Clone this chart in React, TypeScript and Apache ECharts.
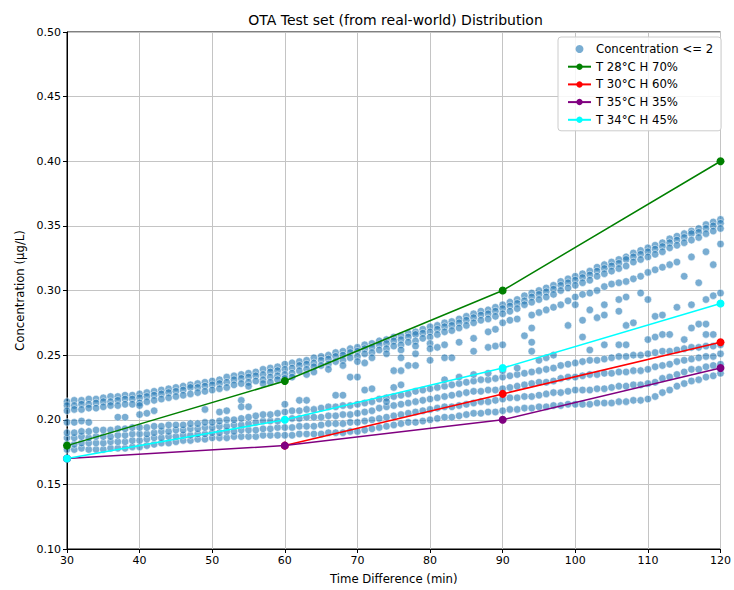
import React, { useEffect, useRef } from "react";
import * as echarts from "echarts";

const MINUTES = [
  30, 31, 32, 33, 34, 35, 36, 37, 38, 39,
  40, 41, 42, 43, 44, 45, 46, 47, 48, 49,
  50, 51, 52, 53, 54, 55, 56, 57, 58, 59,
  60, 61, 62, 63, 64, 65, 66, 67, 68, 69,
  70, 71, 72, 73, 74, 75, 76, 77, 78, 79,
  80, 81, 82, 83, 84, 85, 86, 87, 88, 89,
  90, 91, 92, 93, 94, 95, 96, 97, 98, 99,
  100, 101, 102, 103, 104, 105, 106, 107, 108, 109,
  110, 111, 112, 113, 114, 115, 116, 117, 118, 119,
  120,
];

const UPPER_TOP = [
  0.214, 0.215, 0.215, 0.216, 0.216, 0.217, 0.218, 0.218, 0.219, 0.219,
  0.220, 0.221, 0.222, 0.223, 0.224, 0.225, 0.226, 0.227, 0.228, 0.229,
  0.230, 0.231, 0.233, 0.234, 0.235, 0.236, 0.237, 0.239, 0.240, 0.241,
  0.243, 0.244, 0.245, 0.246, 0.248, 0.249, 0.250, 0.252, 0.253, 0.255,
  0.256, 0.258, 0.259, 0.261, 0.262, 0.264, 0.265, 0.267, 0.268, 0.270,
  0.272, 0.273, 0.275, 0.276, 0.278, 0.280, 0.282, 0.284, 0.285, 0.287,
  0.289, 0.291, 0.293, 0.296, 0.298, 0.300, 0.302, 0.304, 0.307, 0.309,
  0.311, 0.313, 0.315, 0.318, 0.320, 0.322, 0.324, 0.326, 0.329, 0.331,
  0.333, 0.335, 0.337, 0.340, 0.342, 0.344, 0.346, 0.348, 0.351, 0.353,
  0.355,
];

const UPPER_MID = [
  0.211, 0.211, 0.212, 0.212, 0.213, 0.214, 0.214, 0.215, 0.216, 0.216,
  0.217, 0.218, 0.219, 0.220, 0.221, 0.222, 0.223, 0.225, 0.225, 0.226,
  0.227, 0.228, 0.229, 0.231, 0.232, 0.233, 0.234, 0.235, 0.237, 0.238,
  0.239, 0.240, 0.242, 0.243, 0.244, 0.246, 0.247, 0.249, 0.250, 0.252,
  0.253, 0.255, 0.256, 0.258, 0.259, 0.261, 0.262, 0.264, 0.266, 0.267,
  0.268, 0.270, 0.272, 0.273, 0.275, 0.277, 0.279, 0.281, 0.282, 0.284,
  0.286, 0.288, 0.290, 0.292, 0.295, 0.297, 0.299, 0.301, 0.304, 0.306,
  0.308, 0.310, 0.312, 0.315, 0.317, 0.319, 0.321, 0.324, 0.326, 0.328,
  0.330, 0.332, 0.334, 0.337, 0.339, 0.341, 0.344, 0.345, 0.348, 0.350,
  0.352,
];

const UPPER_LOW = [
  0.207, 0.208, 0.208, 0.209, 0.209, 0.210, 0.211, 0.211, 0.212, 0.212,
  0.213, 0.214, 0.215, 0.216, 0.217, 0.218, 0.219, 0.220, 0.221, 0.222,
  0.223, 0.224, 0.225, 0.227, 0.228, 0.229, 0.230, 0.231, 0.233, 0.234,
  0.235, 0.236, 0.238, 0.239, 0.241, 0.242, 0.243, 0.245, 0.246, 0.248,
  0.249, 0.251, 0.252, 0.254, 0.255, 0.257, 0.258, 0.260, 0.261, 0.263,
  0.264, 0.266, 0.268, 0.269, 0.271, 0.273, 0.275, 0.277, 0.278, 0.280,
  0.282, 0.284, 0.286, 0.289, 0.291, 0.293, 0.295, 0.297, 0.300, 0.302,
  0.304, 0.306, 0.308, 0.311, 0.313, 0.315, 0.317, 0.319, 0.322, 0.324,
  0.326, 0.328, 0.330, 0.333, 0.335, 0.337, 0.339, 0.341, 0.344, 0.346,
  0.348,
];

const LOWER_1 = [
  0.177, 0.177, 0.178, 0.177, 0.177, 0.177, 0.178, 0.178, 0.178, 0.179,
  0.179, 0.180, 0.181, 0.182, 0.182, 0.183, 0.184, 0.184, 0.185, 0.185,
  0.186, 0.186, 0.186, 0.187, 0.187, 0.187, 0.187, 0.188, 0.188, 0.188,
  0.188, 0.188, 0.189, 0.189, 0.189, 0.189, 0.190, 0.190, 0.190, 0.191,
  0.191, 0.192, 0.193, 0.194, 0.195, 0.196, 0.197, 0.198, 0.198, 0.199,
  0.200, 0.201, 0.202, 0.202, 0.203, 0.204, 0.205, 0.205, 0.206, 0.206,
  0.207, 0.208, 0.208, 0.209, 0.209, 0.210, 0.210, 0.211, 0.211, 0.212,
  0.212, 0.212, 0.212, 0.213, 0.213, 0.213, 0.214, 0.214, 0.215, 0.215,
  0.216, 0.218, 0.221, 0.223, 0.226, 0.228, 0.230, 0.231, 0.233, 0.234,
  0.236,
];

const LOWER_2 = [
  0.181, 0.181, 0.182, 0.182, 0.182, 0.182, 0.183, 0.183, 0.183, 0.184,
  0.184, 0.185, 0.186, 0.186, 0.187, 0.187, 0.188, 0.188, 0.189, 0.189,
  0.190, 0.190, 0.191, 0.191, 0.192, 0.192, 0.192, 0.193, 0.193, 0.194,
  0.194, 0.194, 0.195, 0.195, 0.195, 0.196, 0.197, 0.197, 0.197, 0.198,
  0.198, 0.199, 0.200, 0.201, 0.202, 0.203, 0.204, 0.205, 0.206, 0.207,
  0.208, 0.209, 0.210, 0.210, 0.211, 0.212, 0.213, 0.214, 0.214, 0.215,
  0.216, 0.217, 0.217, 0.218, 0.218, 0.219, 0.220, 0.221, 0.221, 0.222,
  0.223, 0.223, 0.223, 0.224, 0.224, 0.225, 0.226, 0.226, 0.227, 0.227,
  0.228, 0.229, 0.232, 0.233, 0.235, 0.237, 0.239, 0.239, 0.241, 0.242,
  0.243,
];

const LOWER_3 = [
  0.186, 0.186, 0.187, 0.186, 0.187, 0.187, 0.187, 0.188, 0.188, 0.189,
  0.189, 0.189, 0.190, 0.191, 0.191, 0.192, 0.192, 0.193, 0.193, 0.194,
  0.194, 0.195, 0.195, 0.196, 0.196, 0.197, 0.198, 0.199, 0.199, 0.199,
  0.200, 0.201, 0.201, 0.202, 0.202, 0.202, 0.203, 0.203, 0.204, 0.204,
  0.205, 0.206, 0.207, 0.209, 0.210, 0.211, 0.212, 0.213, 0.214, 0.215,
  0.216, 0.217, 0.218, 0.219, 0.220, 0.221, 0.222, 0.222, 0.223, 0.223,
  0.224, 0.225, 0.226, 0.227, 0.228, 0.229, 0.229, 0.230, 0.232, 0.233,
  0.233, 0.234, 0.235, 0.235, 0.236, 0.236, 0.237, 0.237, 0.238, 0.238,
  0.239, 0.241, 0.242, 0.243, 0.245, 0.246, 0.247, 0.248, 0.249, 0.249,
  0.251,
];

const LOWER_4 = [
  0.190, 0.190, 0.191, 0.191, 0.192, 0.192, 0.192, 0.193, 0.193, 0.194,
  0.194, 0.194, 0.195, 0.195, 0.196, 0.196, 0.196, 0.197, 0.197, 0.198,
  0.198, 0.199, 0.200, 0.200, 0.201, 0.202, 0.203, 0.204, 0.204, 0.205,
  0.206, 0.207, 0.207, 0.208, 0.208, 0.209, 0.210, 0.210, 0.211, 0.211,
  0.212, 0.213, 0.214, 0.216, 0.217, 0.218, 0.219, 0.220, 0.222, 0.223,
  0.224, 0.225, 0.226, 0.227, 0.228, 0.229, 0.230, 0.231, 0.231, 0.232,
  0.233, 0.234, 0.235, 0.236, 0.237, 0.238, 0.239, 0.240, 0.242, 0.243,
  0.244, 0.245, 0.246, 0.246, 0.247, 0.248, 0.249, 0.249, 0.250, 0.250,
  0.251, 0.252, 0.253, 0.253, 0.254, 0.255, 0.256, 0.256, 0.257, 0.257,
  0.258,
];

const UPPER_EXTRA: [number, number][] = [
  [55, 0.226], [57, 0.228], [59, 0.231], [60, 0.232], [61, 0.233], [63, 0.235],
  [64, 0.237], [66, 0.239], [68, 0.242], [70, 0.245], [72, 0.248], [74, 0.251],
  [76, 0.254], [78, 0.257], [80, 0.259],
];

const SUB_1: [number, number][] = [
  [76, 0.248], [78, 0.251], [80, 0.255], [81, 0.256], [82, 0.258], [84, 0.260],
  [86, 0.263], [88, 0.268], [89, 0.270], [90, 0.275], [91, 0.277], [92, 0.278],
  [94, 0.281], [95, 0.283], [96, 0.285], [97, 0.287], [98, 0.289], [99, 0.292],
  [100, 0.295], [101, 0.297], [102, 0.298], [103, 0.300], [104, 0.303], [105, 0.305],
  [106, 0.306], [107, 0.307], [108, 0.309], [109, 0.311], [110, 0.314], [111, 0.316],
  [112, 0.318], [113, 0.320], [114, 0.322], [115, 0.311], [116, 0.326], [117, 0.306],
  [118, 0.330], [119, 0.320], [120, 0.336],
];

const SUB_2: [number, number][] = [
  [100, 0.289], [104, 0.289], [106, 0.293], [107, 0.295], [109, 0.298], [110, 0.293],
  [114, 0.287], [116, 0.289], [118, 0.293], [119, 0.296], [120, 0.298],
];

const SUB_3: [number, number][] = [
  [99, 0.273], [101, 0.277], [102, 0.285], [103, 0.279], [104, 0.281], [106, 0.284],
  [107, 0.273], [108, 0.275], [111, 0.280], [112, 0.281], [116, 0.271], [117, 0.274],
  [118, 0.274],
];

const SUB_4: [number, number][] = [
  [101, 0.264], [102, 0.254], [104, 0.258], [106, 0.258], [107, 0.258], [110, 0.262],
  [111, 0.264], [112, 0.266], [113, 0.266], [115, 0.262], [118, 0.266], [119, 0.266],
];

const MIDDLE: [number, number][] = [
  [30, 0.198], [31, 0.198], [32, 0.199], [33, 0.198], [37, 0.202], [38, 0.202],
  [40, 0.204], [40, 0.211], [41, 0.205], [42, 0.207], [49, 0.208], [51, 0.206],
  [52, 0.207], [54, 0.215], [54, 0.210], [55, 0.210], [58, 0.229], [60, 0.212],
  [62, 0.215], [63, 0.215], [67, 0.219], [68, 0.219], [69, 0.233], [70, 0.233],
  [71, 0.223], [72, 0.224], [71, 0.244], [74, 0.214], [75, 0.225], [76, 0.227],
  [75, 0.238], [76, 0.238], [77, 0.242], [78, 0.242], [80, 0.246], [82, 0.248],
  [83, 0.248], [86, 0.253], [88, 0.256], [89, 0.257], [90, 0.258], [92, 0.240],
  [93, 0.265], [94, 0.253], [94, 0.260], [94, 0.271], [95, 0.246], [96, 0.248],
  [97, 0.250], [82, 0.231], [84, 0.233], [86, 0.235], [88, 0.236], [90, 0.238],
];

const LINE_T28: [number, number][] = [[30, 0.18], [60, 0.23], [90, 0.30], [120, 0.40]];
const LINE_T30: [number, number][] = [[60, 0.18], [90, 0.22], [120, 0.26]];
const LINE_T35: [number, number][] = [[30, 0.17], [60, 0.18], [90, 0.20], [120, 0.24]];
const LINE_T34: [number, number][] = [[30, 0.17], [60, 0.20], [90, 0.24], [120, 0.29]];

const SERIES_NAMES = [
  "Concentration <= 2",
  "T 28°C H 70%",
  "T 30°C H 60%",
  "T 35°C H 35%",
  "T 34°C H 45%",
];
const LINE_COLORS = ["#008000", "#ff0000", "#800080", "#00ffff"];

const FONT = "DejaVu Sans";

export default function App() {
  const ref = useRef<HTMLDivElement>(null);

  useEffect(() => {
    if (!ref.current) return;
    const chart = echarts.init(ref.current, undefined, { renderer: "svg" });

    const rows = [UPPER_TOP, UPPER_MID, UPPER_LOW, LOWER_1, LOWER_2, LOWER_3, LOWER_4];
    const scatterData: [number, number][] = [];
    rows.forEach((row) => row.forEach((y, i) => scatterData.push([MINUTES[i], y])));
    [UPPER_EXTRA, SUB_1, SUB_2, SUB_3, SUB_4, MIDDLE].forEach((list) =>
      list.forEach((p) => scatterData.push(p))
    );

    const lineSeries = [LINE_T28, LINE_T30, LINE_T35, LINE_T34].map((d, i) => ({
      name: SERIES_NAMES[i + 1],
      type: "line",
      data: d,
      symbol: "circle",
      symbolSize: 8,
      showSymbol: true,
      lineStyle: { width: 1.5, color: LINE_COLORS[i] },
      itemStyle: { color: LINE_COLORS[i] },
      z: 3 + i,
    }));

    chart.setOption({
      animation: false,
      textStyle: { fontFamily: FONT },
      grid: {
        left: 67,
        top: 32,
        width: 657,
        height: 521,
        show: true,
        borderColor: "#000",
        borderWidth: 1,
      },
      graphic: [
        {
          type: "text",
          x: 395.5,
          y: 20,
          style: {
            text: "OTA Test set (from real-world) Distribution",
            fontFamily: FONT,
            fontSize: 14,
            fill: "#000",
            align: "center",
            verticalAlign: "middle",
          },
        },
      ],
      legend: {
        orient: "vertical",
        left: 558,
        top: 37,
        itemWidth: 23,
        itemHeight: 8,
        itemGap: 5.7,
        padding: [6, 8, 5, 9],
        backgroundColor: "rgba(255,255,255,0.85)",
        borderColor: "#cccccc",
        borderWidth: 1,
        borderRadius: 3,
        textStyle: { fontFamily: FONT, fontSize: 11.7, color: "#000" },
        data: [
          { name: SERIES_NAMES[0], icon: "circle", itemStyle: { color: "rgba(31,119,180,0.6)", borderWidth: 0 } },
          SERIES_NAMES[1],
          SERIES_NAMES[2],
          SERIES_NAMES[3],
          SERIES_NAMES[4],
        ],
      },
      xAxis: {
        type: "value",
        min: 30,
        max: 120,
        interval: 10,
        name: "Time Difference (min)",
        nameLocation: "middle",
        nameGap: 24,
        nameTextStyle: { fontFamily: FONT, fontSize: 11.7, color: "#000" },
        axisLine: { show: true, lineStyle: { color: "#000", width: 1 } },
        axisTick: { show: true, length: 4, lineStyle: { color: "#000" } },
        axisLabel: { fontFamily: FONT, fontSize: 11, color: "#000", margin: 6 },
        splitLine: { show: true, lineStyle: { color: "#c4c4c4", width: 1 } },
      },
      yAxis: {
        type: "value",
        min: 0.1,
        max: 0.5,
        interval: 0.05,
        name: "Concentration (µg/L)",
        nameLocation: "middle",
        nameGap: 38,
        nameTextStyle: { fontFamily: FONT, fontSize: 11.7, color: "#000" },
        axisLine: { show: true, lineStyle: { color: "#000", width: 1 } },
        axisTick: { show: true, length: 4, lineStyle: { color: "#000" } },
        axisLabel: {
          fontFamily: FONT,
          fontSize: 11,
          color: "#000",
          margin: 6,
          formatter: (v: number) => v.toFixed(2),
        },
        splitLine: { show: true, lineStyle: { color: "#c4c4c4", width: 1 } },
      },
      series: [
        {
          name: SERIES_NAMES[0],
          type: "scatter",
          data: scatterData,
          symbol: "circle",
          symbolSize: 7.5,
          itemStyle: {
            color: "rgba(31,119,180,0.6)",
            borderColor: "rgba(255,255,255,0.5)",
            borderWidth: 1,
            opacity: 1,
          },
          z: 2,
        },
        ...lineSeries,
      ],
    });

    return () => chart.dispose();
  }, []);

  return (
    <div
      ref={ref}
      style={{ position: "absolute", left: 0, top: 0, width: 734, height: 590 }}
    />
  );
}
